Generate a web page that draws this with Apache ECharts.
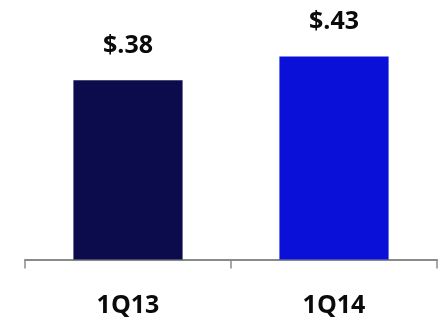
<!DOCTYPE html>
<html>
<head>
<meta charset="utf-8">
<script src="https://cdn.jsdelivr.net/npm/echarts@6/dist/echarts.min.js"></script>
<style>html,body{margin:0;padding:0;background:#fff}#c{width:441px;height:320px}</style>
</head>
<body>
<div id="c"></div>
<script>
const categories = ['1Q13', '1Q14'];
const values = [0.38, 0.43];
const valueLabels = ['$.38', '$.43'];
const barColors = ['#0c0b4c', '#0a10d8'];

const chart = echarts.init(document.getElementById('c'), null, {renderer: 'canvas'});
chart.setOption({
  animation: false,
  grid: {left: 25, right: 4, top: 23.5, bottom: 60.5},
  xAxis: {
    type: 'category',
    data: categories,
    axisLine: {lineStyle: {color: '#8a8a8a', width: 2}},
    axisTick: {show: true, length: 9, lineStyle: {color: '#8a8a8a', width: 1.5}},
    axisLabel: {
      margin: 34,
      fontFamily: 'Open Sans',
      fontWeight: 'bold',
      fontSize: 25,
      color: '#0a0a0a'
    }
  },
  yAxis: {type: 'value', min: 0, max: 0.5, show: false, splitLine: {show: false}},
  series: [{
    type: 'bar',
    barCategoryGap: '47%',
    data: values.map((v, i) => ({value: v, itemStyle: {color: barColors[i]}})),
    label: {
      show: true,
      position: 'top',
      distance: 22,
      fontFamily: 'Open Sans',
      fontWeight: 'bold',
      fontSize: 25,
      color: '#0a0a0a',
      formatter: p => valueLabels[p.dataIndex]
    }
  }]
});
</script>
</body>
</html>
